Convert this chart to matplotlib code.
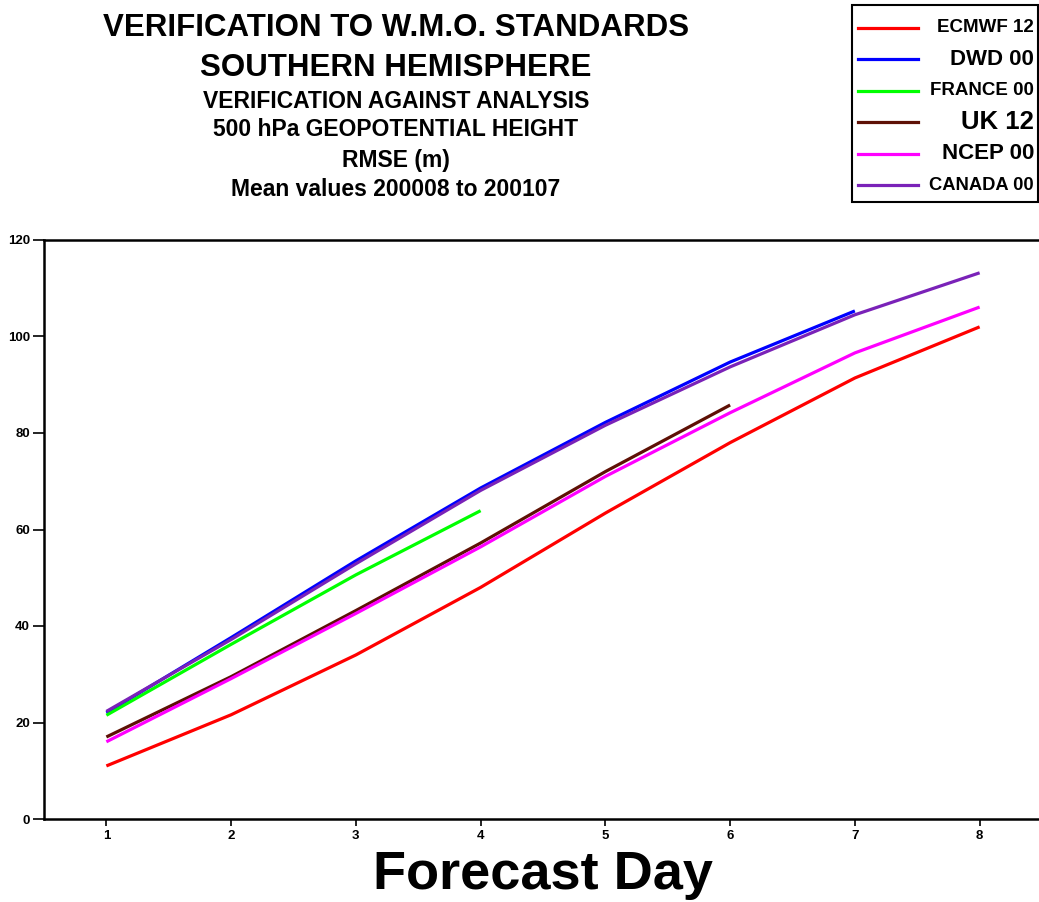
import numpy as np
import matplotlib
matplotlib.use('Agg')
import matplotlib.pyplot as plt
from matplotlib.lines import Line2D

plt.rcParams['font.family'] = ['Liberation Sans', 'DejaVu Sans']
plt.rcParams['font.weight'] = 'bold'

# data (RMSE in m)
days = [1, 2, 3, 4, 5, 6, 7, 8]
ecmwf = [11.0, 21.6, 34.0, 48.0, 63.4, 78.0, 91.4, 102.0]
dwd = [22.0, 37.6, 53.5, 68.6, 82.2, 94.7, 105.3]
france = [21.5, 36.2, 50.6, 63.9]
uk = [17.0, 29.5, 43.2, 57.2, 72.0, 85.8]
ncep = [16.0, 29.1, 42.6, 56.4, 71.0, 84.2, 96.6, 106.1]
canada = [22.3, 37.2, 52.9, 68.1, 81.6, 93.7, 104.5, 113.2]

names = ['ECMWF 12', 'DWD 00', 'FRANCE 00', 'UK 12', 'NCEP 00', 'CANADA 00']
series = [ecmwf, dwd, france, uk, ncep, canada]
colors = ['#ff0000', '#0000ff', '#00ff00', '#5e1005', '#ff00ff', '#7a22b8']
label_sizes = [13.5, 16, 13.5, 18.5, 16, 13.2]
# draw order: purple over blue like the reference
order = [1, 2, 3, 4, 0, 5]

fig = plt.figure(figsize=(10.39, 9.02), dpi=100)
ax = fig.add_axes([44/1039, 83/902, 998/1039, 579/902])

for i in order:
    s = series[i]
    ax.plot(days[:len(s)], s, color=colors[i], lw=2.3, solid_capstyle='butt')

ax.set_xlim(0.5, 8.5)
ax.set_ylim(0, 120)
ax.set_xticks(days)
ax.set_yticks(range(0, 121, 20))
ax.tick_params(axis='y', direction='out', length=8, width=1.2, labelsize=9.5, pad=2)
ax.tick_params(axis='x', direction='out', length=5, width=1.2, labelsize=9.5, pad=3)
for t in ax.get_xticklabels() + ax.get_yticklabels():
    t.set_fontweight('bold')
for side in ['left', 'bottom', 'top', 'right']:
    ax.spines[side].set_linewidth(1.8)
ax.set_xlabel('Forecast Day', fontsize=39, fontweight='bold', labelpad=6)

# title block
fig.text(396/1039, 1 - 28/902, 'VERIFICATION TO W.M.O. STANDARDS', ha='center', va='center',
         fontsize=22.5, fontweight='bold')
fig.text(396/1039, 1 - 68/902, 'SOUTHERN HEMISPHERE', ha='center', va='center',
         fontsize=22.5, fontweight='bold')
subs = ['VERIFICATION AGAINST ANALYSIS', '500 hPa GEOPOTENTIAL HEIGHT', 'RMSE (m)',
        'Mean values 200008 to 200107']
for txt, yy in zip(subs, [102, 130, 160, 189]):
    fig.text(396/1039, 1 - yy/902, txt, ha='center', va='center', fontsize=16.5, fontweight='bold')

# legend box drawn by hand
box = plt.Rectangle((852/1039, 1 - 202/902), 186/1039, 197/902, transform=fig.transFigure,
                    fill=False, lw=1.5, ec='black')
fig.patches.append(box)
for i, (name, c, fs) in enumerate(zip(names, colors, label_sizes)):
    yy = 1 - (28 + i*31.4)/902
    fig.add_artist(Line2D([858/1039, 918/1039], [yy, yy], color=c, lw=2.3,
                          transform=fig.transFigure))
    fig.text(1034/1039, yy, name, ha='right', va='center', fontsize=fs, fontweight='bold')

fig.savefig('out.png', dpi=100)
